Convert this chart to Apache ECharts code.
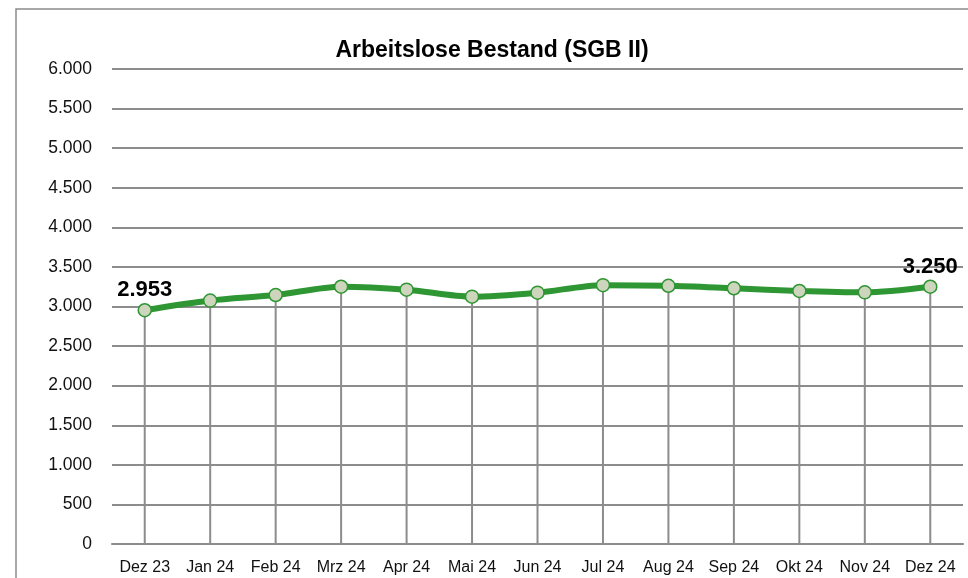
<!DOCTYPE html>
<html>
<head>
<meta charset="utf-8">
<script src="https://cdn.jsdelivr.net/npm/echarts@6/dist/echarts.min.js"></script>
<style>
html,body{margin:0;padding:0;background:#fff;}
#c{width:968px;height:578px;}
</style>
</head>
<body>
<div id="c"></div>
<script>
const categories = ['Dez 23','Jan 24','Feb 24','Mrz 24','Apr 24','Mai 24','Jun 24','Jul 24','Aug 24','Sep 24','Okt 24','Nov 24','Dez 24'];
const values = [2953, 3075, 3145, 3250, 3213, 3124, 3175, 3270, 3262, 3230, 3196, 3179, 3250];
const chartTitle = 'Arbeitslose Bestand (SGB II)';
const yMin = 0, yMax = 6000, yStep = 500;

function fmt(v){ return String(v).replace(/\B(?=(\d{3})+(?!\d))/g, '.'); }

const chart = echarts.init(document.getElementById('c'), null, {renderer:'canvas'});
const lastIdx = values.length - 1;
chart.setOption({
  animation:false,
  textStyle:{fontFamily:'Liberation Sans'},
  title:{
    text: chartTitle,
    left: 487, top: 34, textAlign:'center',
    textStyle:{fontSize:23, fontWeight:'bold', color:'#000', fontFamily:'Liberation Sans'}
  },
  graphic:[{
    type:'rect', silent:true, z:-10,
    shape:{x:16, y:9, width:1000, height:600},
    style:{fill:'none', stroke:'#8c8c8c', lineWidth:1.5}
  }],
  grid:{left:112, right:5, top:69, bottom:34, containLabel:false},
  xAxis:{
    type:'category', data:categories, boundaryGap:true,
    axisLine:{show:true, lineStyle:{color:'#8c8c8c', width:2}},
    axisTick:{show:false},
    axisLabel:{color:'#111', fontSize:16, margin:16, interval:0}
  },
  yAxis:{
    type:'value', min:yMin, max:yMax, interval:yStep,
    axisLine:{show:false}, axisTick:{show:false},
    axisLabel:{color:'#111', fontSize:17.5, margin:20, formatter:fmt},
    splitLine:{lineStyle:{color:'#8c8c8c', width:2}}
  },
  series:[
    {
      type:'bar', data:values, barWidth:2, silent:true, z:1,
      itemStyle:{color:'#8c8c8c'}
    },
    {
      type:'line', data:values, smooth:0.3, z:3,
      symbol:'circle', symbolSize:13,
      lineStyle:{color:'#2e9632', width:6},
      itemStyle:{color:'#cdd5bd', borderColor:'#2e9632', borderWidth:1.5},
      label:{
        show:true, position:'top', distance:2,
        fontSize:22, fontWeight:'bold', color:'#000',
        formatter:function(p){ return (p.dataIndex===0 || p.dataIndex===lastIdx) ? fmt(p.value) : ''; }
      }
    }
  ]
});
</script>
</body>
</html>
